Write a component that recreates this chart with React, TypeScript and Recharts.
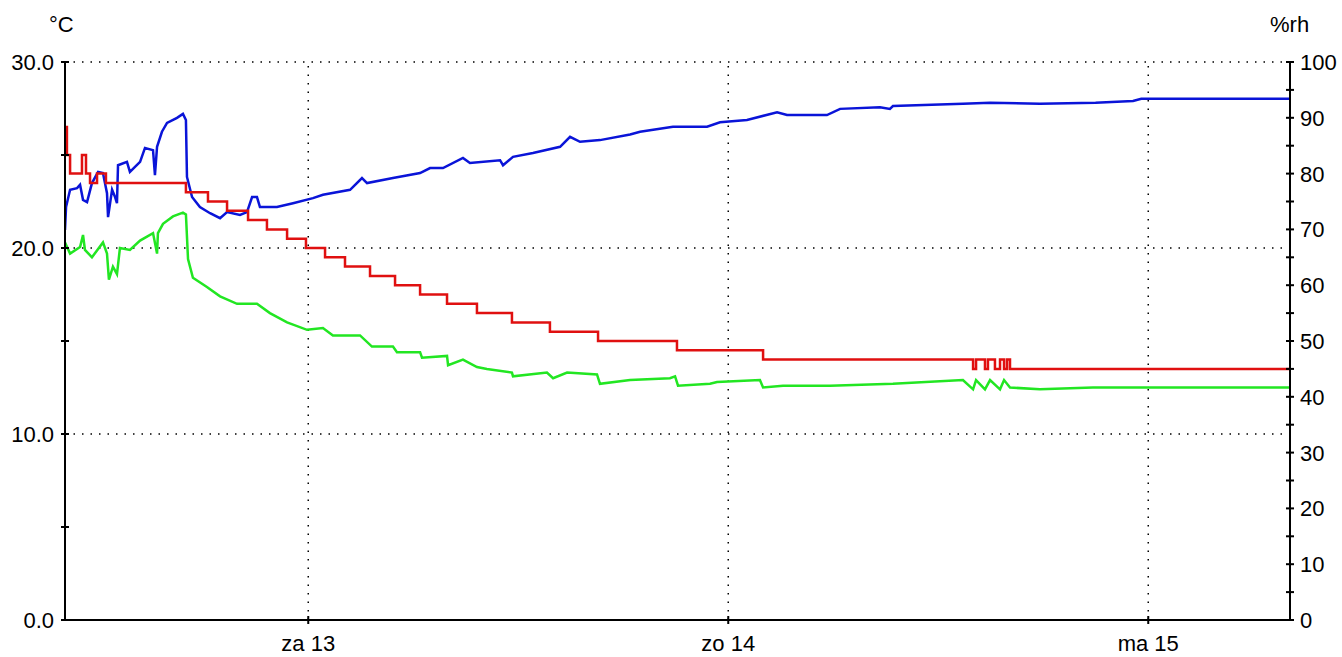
import { LineChart, Line, XAxis, YAxis, ReferenceLine } from 'recharts';

// time axis: hours counted from midnight of vr 12
const dayTicks = [24, 48, 72];
const dayLabels = ['za 13', 'zo 14', 'ma 15'];
const tempTicks = [0, 5, 10, 15, 20, 25, 30];
const rhTicks = [0, 5, 10, 15, 20, 25, 30, 35, 40, 45, 50, 55, 60, 65, 70, 75, 80, 85, 90, 95, 100];
const gridTemps = [10, 20, 30];

// temperature (°C), stepped
const tempTimes = [10.1, 10.21, 10.39, 11.07, 11.3, 11.53, 11.93, 12.44, 17.01, 18.27, 19.36, 20.56, 21.64, 22.79, 23.87, 24.96, 26.1, 27.53, 28.96, 30.39, 31.93, 33.64, 35.64, 37.81, 40.56, 45.07, 49.99, 61.99, 62.16, 62.67, 62.84, 63.24, 63.53, 63.76, 63.93, 64.1, 80.1];
const tempValues = [26.5, 25.0, 24.0, 25.0, 24.0, 23.5, 24.0, 23.5, 23.0, 22.5, 22.0, 21.5, 21.0, 20.5, 20.0, 19.5, 19.0, 18.5, 18.0, 17.5, 17.0, 16.5, 16.0, 15.5, 15.0, 14.5, 14.0, 13.5, 14.0, 13.5, 14.0, 13.5, 14.0, 13.5, 14.0, 13.5, 13.5];

// dew point (°C)
const dewTimes = [10.1, 10.39, 10.96, 11.13, 11.24, 11.64, 12.27, 12.5, 12.61, 12.84, 13.07, 13.24, 13.81, 14.39, 15.13, 15.36, 15.41, 15.7, 16.27, 16.84, 17.01, 17.13, 17.41, 18.21, 18.96, 19.93, 21.07, 21.81, 22.79, 23.93, 24.84, 25.41, 26.96, 27.64, 28.84, 29.07, 30.39, 30.5, 31.93, 31.99, 32.84, 33.64, 34.21, 35.64, 35.7, 37.64, 37.99, 38.79, 40.5, 40.67, 42.39, 44.67, 44.96, 45.13, 46.96, 47.36, 49.81, 49.99, 51.13, 53.81, 57.41, 61.41, 61.99, 62.16, 62.67, 62.96, 63.53, 63.76, 64.1, 65.81, 68.84, 71.53, 80.1];
const dewValues = [20.3, 19.7, 20.05, 20.7, 19.9, 19.5, 20.3, 19.7, 18.3, 19.0, 18.6, 20.0, 19.9, 20.4, 20.8, 19.7, 20.8, 21.3, 21.7, 21.9, 21.8, 19.4, 18.4, 17.9, 17.4, 17.0, 17.0, 16.5, 16.0, 15.6, 15.7, 15.3, 15.3, 14.7, 14.7, 14.4, 14.4, 14.1, 14.2, 13.7, 14.0, 13.6, 13.5, 13.3, 13.1, 13.3, 13.0, 13.3, 13.2, 12.7, 12.9, 13.0, 13.1, 12.6, 12.7, 12.8, 12.9, 12.5, 12.6, 12.6, 12.7, 12.9, 12.4, 12.9, 12.4, 12.9, 12.4, 12.9, 12.5, 12.4, 12.5, 12.5, 12.5];

// relative humidity (%rh)
const rhTimes = [10.1, 10.16, 10.39, 10.79, 10.96, 11.13, 11.36, 11.64, 11.99, 12.27, 12.5, 12.56, 12.79, 12.96, 13.07, 13.13, 13.64, 13.81, 14.39, 14.67, 15.13, 15.24, 15.36, 15.64, 15.93, 16.5, 16.84, 17.01, 17.07, 17.36, 17.81, 18.39, 18.96, 19.36, 20.1, 20.5, 20.79, 21.07, 21.24, 22.21, 23.13, 24.27, 24.84, 26.39, 27.07, 27.36, 28.84, 30.39, 30.96, 31.7, 32.84, 33.24, 34.96, 35.13, 35.7, 36.84, 38.39, 38.96, 39.53, 40.67, 42.39, 42.96, 44.84, 46.79, 47.53, 49.07, 50.79, 51.36, 53.64, 54.39, 56.67, 57.24, 57.41, 61.41, 62.96, 65.81, 68.99, 71.13, 71.6, 80.1];
const rhValues = [69.9, 74.0, 77.1, 77.4, 78.0, 75.3, 74.9, 78.3, 80.3, 80.1, 76.5, 72.2, 77.1, 75.8, 74.7, 81.5, 82.1, 80.3, 82.1, 84.6, 84.2, 79.7, 84.8, 87.5, 89.1, 90.0, 90.7, 89.6, 79.4, 75.8, 74.0, 72.9, 72.0, 73.1, 72.6, 73.1, 75.8, 75.8, 74.0, 74.0, 74.7, 75.6, 76.2, 77.1, 79.2, 78.3, 79.2, 80.1, 81.0, 81.0, 82.8, 81.9, 82.4, 81.5, 83.0, 83.7, 84.8, 86.6, 85.7, 86.0, 87.0, 87.5, 88.4, 88.4, 89.2, 89.6, 91.0, 90.5, 90.5, 91.6, 91.9, 91.6, 92.1, 92.5, 92.7, 92.5, 92.7, 93.0, 93.4, 93.4];

const zip = (ts: number[], vs: number[]) => ts.map((t, i) => ({ t, v: vs[i] }));
const tempData = zip(tempTimes, tempValues);
const dewData = zip(dewTimes, dewValues);
const rhData = zip(rhTimes, rhValues);

const FONT = '"Liberation Sans", Arial, sans-serif';
const FS = 22;

const LeftTick = ({ x, y, payload }: any) => (
  <g>
    <line x1={x - 4} x2={x + 4} y1={y} y2={y} stroke="#000" strokeWidth={2} />
    {payload.value % 10 === 0 && (
      <text x={x - 11} y={y + 8} textAnchor="end" fontFamily={FONT} fontSize={FS} fill="#000">
        {payload.value.toFixed(1)}
      </text>
    )}
  </g>
);

const RightTick = ({ x, y, payload }: any) => (
  <g>
    <line x1={x - 4} x2={x + 4} y1={y} y2={y} stroke="#000" strokeWidth={2} />
    {payload.value % 10 === 0 && (
      <text x={x + 10} y={y + 8} textAnchor="start" fontFamily={FONT} fontSize={FS} fill="#000">
        {payload.value}
      </text>
    )}
  </g>
);

const BottomTick = ({ x, y, payload }: any) => (
  <g>
    <line x1={x} x2={x} y1={y - 4} y2={y + 4} stroke="#000" strokeWidth={2} />
    <text x={x} y={y + 31} textAnchor="middle" fontFamily={FONT} fontSize={FS} fill="#000">
      {dayLabels[dayTicks.indexOf(payload.value)]}
    </text>
  </g>
);

export default function App() {
  return (
    <div style={{ position: 'absolute', left: 0, top: 0, width: 1342, height: 657, background: '#fff' }}>
      <div style={{ position: 'absolute', left: 49, top: 12, fontFamily: FONT, fontSize: FS }}>°C</div>
      <div style={{ position: 'absolute', left: 1270, top: 12, fontFamily: FONT, fontSize: FS }}>%rh</div>
      <LineChart width={1342} height={657} data={tempData} margin={{ top: 62, right: 2, bottom: 7, left: 5 }}>
        <XAxis
          dataKey="t"
          type="number"
          domain={[10.1, 80.1]}
          ticks={dayTicks}
          allowDataOverflow
          axisLine={{ stroke: '#000', strokeWidth: 2 }}
          tickLine={false}
          tickSize={0}
          tickMargin={0}
          tick={<BottomTick />}
          height={30}
        />
        <YAxis
          yAxisId="t"
          orientation="left"
          domain={[0, 30]}
          ticks={tempTicks}
          width={60}
          axisLine={{ stroke: '#000', strokeWidth: 2 }}
          tickLine={false}
          tickSize={0}
          tickMargin={0}
          tick={<LeftTick />}
          interval={0}
        />
        <YAxis
          yAxisId="rh"
          orientation="right"
          domain={[0, 100]}
          ticks={rhTicks}
          width={50}
          axisLine={{ stroke: '#000', strokeWidth: 2 }}
          tickLine={false}
          tickSize={0}
          tickMargin={0}
          tick={<RightTick />}
          interval={0}
        />
        {gridTemps.map((g) => (
          <ReferenceLine key={'h' + g} yAxisId="t" y={g} stroke="#000" strokeWidth={1.5} strokeDasharray="1.5 7" />
        ))}
        {dayTicks.map((d) => (
          <ReferenceLine key={'v' + d} yAxisId="t" x={d} stroke="#000" strokeWidth={1.5} strokeDasharray="1.5 7" />
        ))}
        <Line data={rhData} yAxisId="rh" dataKey="v" type="linear" stroke="#0a14d8" strokeWidth={2.5} dot={false} isAnimationActive={false} />
        <Line data={tempData} yAxisId="t" dataKey="v" type="stepAfter" stroke="#e01010" strokeWidth={2.5} dot={false} isAnimationActive={false} />
        <Line data={dewData} yAxisId="t" dataKey="v" type="linear" stroke="#22e622" strokeWidth={2.5} dot={false} isAnimationActive={false} />
      </LineChart>
    </div>
  );
}
